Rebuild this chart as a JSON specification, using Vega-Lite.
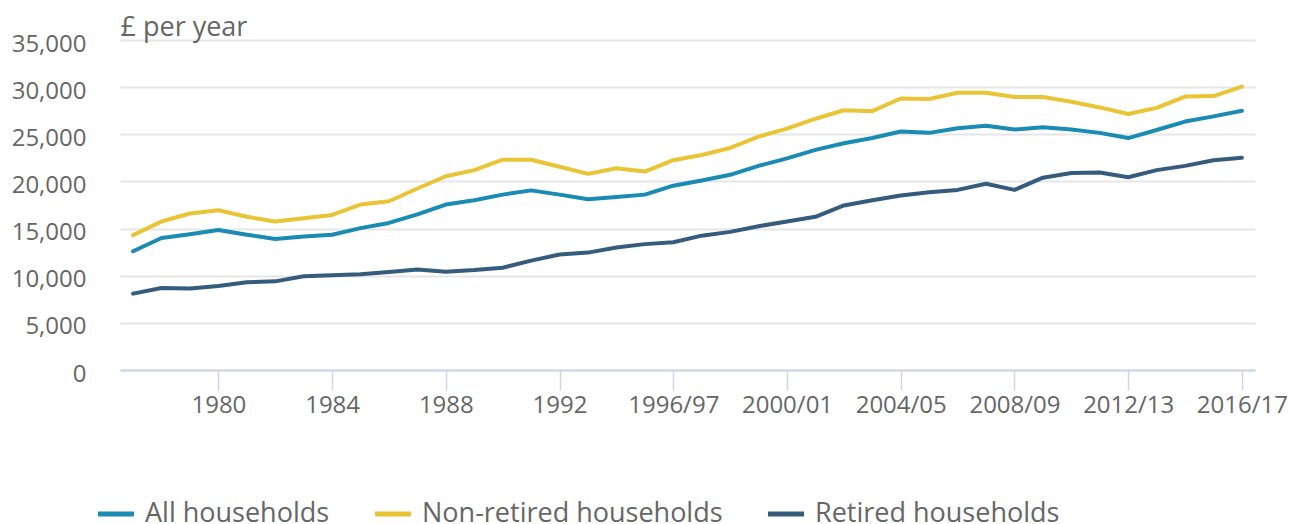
{
  "$schema": "https://vega.github.io/schema/vega-lite/v6.json",
  "width": 1135,
  "height": 330,
  "autosize": {"type": "none"},
  "padding": {"left": 120, "top": 40, "right": 40, "bottom": 154},
  "background": "white",
  "config": {
    "view": {"stroke": null},
    "font": "Open Sans"
  },
  "data": {
    "values": [
      {"period": "1977", "All households": 12600, "Non-retired households": 14300, "Retired households": 8100},
      {"period": "1978", "All households": 14000, "Non-retired households": 15750, "Retired households": 8700},
      {"period": "1979", "All households": 14400, "Non-retired households": 16600, "Retired households": 8650},
      {"period": "1980", "All households": 14850, "Non-retired households": 16950, "Retired households": 8900},
      {"period": "1981", "All households": 14350, "Non-retired households": 16250, "Retired households": 9300},
      {"period": "1982", "All households": 13900, "Non-retired households": 15750, "Retired households": 9400},
      {"period": "1983", "All households": 14150, "Non-retired households": 16100, "Retired households": 9950},
      {"period": "1984", "All households": 14350, "Non-retired households": 16450, "Retired households": 10050},
      {"period": "1985", "All households": 15050, "Non-retired households": 17550, "Retired households": 10150},
      {"period": "1986", "All households": 15600, "Non-retired households": 17900, "Retired households": 10400},
      {"period": "1987", "All households": 16500, "Non-retired households": 19250, "Retired households": 10650},
      {"period": "1988", "All households": 17550, "Non-retired households": 20550, "Retired households": 10420},
      {"period": "1989", "All households": 18000, "Non-retired households": 21200, "Retired households": 10600},
      {"period": "1990", "All households": 18600, "Non-retired households": 22300, "Retired households": 10850},
      {"period": "1991", "All households": 19050, "Non-retired households": 22300, "Retired households": 11600},
      {"period": "1992", "All households": 18600, "Non-retired households": 21550, "Retired households": 12250},
      {"period": "1993", "All households": 18100, "Non-retired households": 20800, "Retired households": 12450},
      {"period": "1994/95", "All households": 18350, "Non-retired households": 21400, "Retired households": 13000},
      {"period": "1995/96", "All households": 18600, "Non-retired households": 21050, "Retired households": 13350},
      {"period": "1996/97", "All households": 19550, "Non-retired households": 22250, "Retired households": 13550},
      {"period": "1997/98", "All households": 20100, "Non-retired households": 22800, "Retired households": 14250},
      {"period": "1998/99", "All households": 20700, "Non-retired households": 23550, "Retired households": 14650},
      {"period": "1999/00", "All households": 21650, "Non-retired households": 24750, "Retired households": 15250},
      {"period": "2000/01", "All households": 22450, "Non-retired households": 25600, "Retired households": 15750},
      {"period": "2001/02", "All households": 23350, "Non-retired households": 26650, "Retired households": 16250},
      {"period": "2002/03", "All households": 24050, "Non-retired households": 27550, "Retired households": 17450},
      {"period": "2003/04", "All households": 24600, "Non-retired households": 27450, "Retired households": 18000},
      {"period": "2004/05", "All households": 25300, "Non-retired households": 28800, "Retired households": 18500},
      {"period": "2005/06", "All households": 25150, "Non-retired households": 28750, "Retired households": 18850},
      {"period": "2006/07", "All households": 25650, "Non-retired households": 29400, "Retired households": 19100},
      {"period": "2007/08", "All households": 25900, "Non-retired households": 29400, "Retired households": 19750},
      {"period": "2008/09", "All households": 25500, "Non-retired households": 28950, "Retired households": 19100},
      {"period": "2009/10", "All households": 25750, "Non-retired households": 28950, "Retired households": 20400},
      {"period": "2010/11", "All households": 25500, "Non-retired households": 28450, "Retired households": 20900},
      {"period": "2011/12", "All households": 25150, "Non-retired households": 27850, "Retired households": 20950},
      {"period": "2012/13", "All households": 24600, "Non-retired households": 27150, "Retired households": 20450},
      {"period": "2013/14", "All households": 25450, "Non-retired households": 27800, "Retired households": 21200},
      {"period": "2014/15", "All households": 26350, "Non-retired households": 29000, "Retired households": 21650},
      {"period": "2015/16", "All households": 26900, "Non-retired households": 29050, "Retired households": 22250},
      {"period": "2016/17", "All households": 27500, "Non-retired households": 30050, "Retired households": 22500}
    ]
  },
  "transform": [
    {"fold": ["All households", "Non-retired households", "Retired households"], "as": ["series", "value"]}
  ],
  "mark": {"type": "line", "strokeWidth": 4, "strokeJoin": "round", "strokeCap": "round"},
  "encoding": {
    "x": {
      "field": "period",
      "type": "ordinal",
      "sort": null,
      "scale": {"type": "point", "padding": 0.46},
      "axis": {
        "title": null,
        "values": ["1980", "1984", "1988", "1992", "1996/97", "2000/01", "2004/05", "2008/09", "2012/13", "2016/17"],
        "labelAngle": 0,
        "labelFont": "Open Sans",
        "labelFontSize": 24,
        "labelColor": "#666666",
        "labelPadding": 3,
        "domainColor": "#ccd6eb",
        "domainWidth": 2,
        "tickColor": "#ccd6eb",
        "tickWidth": 1.5,
        "tickSize": 20,
        "grid": false
      }
    },
    "y": {
      "field": "value",
      "type": "quantitative",
      "scale": {"domain": [0, 35000], "nice": false},
      "axis": {
        "title": "£ per year",
        "titleAngle": 0,
        "titleX": 0,
        "titleY": -5,
        "titleAlign": "left",
        "titleBaseline": "alphabetic",
        "titleFont": "Open Sans",
        "titleFontSize": 27,
        "titleFontWeight": "normal",
        "titleColor": "#666666",
        "values": [0, 5000, 10000, 15000, 20000, 25000, 30000, 35000],
        "format": ",d",
        "labelFont": "Open Sans",
        "labelFontSize": 24,
        "labelColor": "#666666",
        "labelPadding": 34,
        "labelOffset": 4,
        "ticks": false,
        "domain": false,
        "grid": true,
        "gridColor": "#e6e6e6",
        "gridWidth": 2
      }
    },
    "color": {
      "field": "series",
      "type": "nominal",
      "scale": {
        "domain": ["All households", "Non-retired households", "Retired households"],
        "range": ["#1a8bb3", "#e9c435", "#355c7d"]
      },
      "legend": {
        "title": null,
        "orient": "none",
        "direction": "horizontal",
        "legendX": -25,
        "legendY": 453,
        "symbolType": "stroke",
        "symbolSize": 1300,
        "symbolStrokeWidth": 5,
        "labelFont": "Open Sans",
        "labelFontSize": 27,
        "labelColor": "#666666",
        "labelOffset": 8,
        "columnPadding": 34,
        "labelLimit": 400
      }
    }
  }
}
